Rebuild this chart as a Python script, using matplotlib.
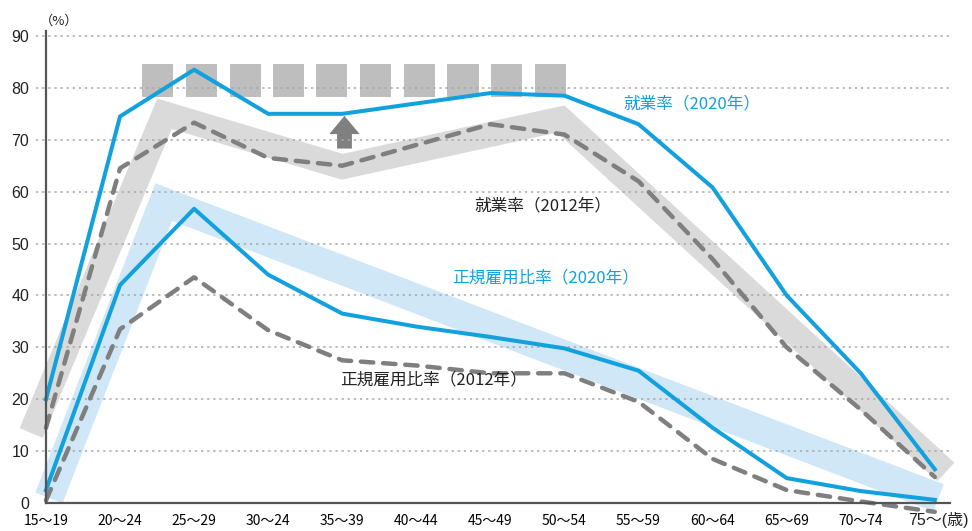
import matplotlib.pyplot as plt
from matplotlib.patches import FancyArrow

plt.rcParams['font.family'] = ['Noto Sans CJK JP', 'DejaVu Sans']
TICK_FONT = ['Liberation Sans', 'Noto Sans CJK JP']

# age groups (x axis), original labels kept as printed
age_labels = ["15～19", "20～24", "25～29", "30～24", "35～39", "40～44", "45～49",
              "50～54", "55～59", "60～64", "65～69", "70～74", "75～"]
y_ticks = [0, 10, 20, 30, 40, 50, 60, 70, 80, 90]

# employment rate (%)
emp_2020 = [20, 74.5, 83.5, 75, 75, 77, 79, 78.5, 73, 60.8, 40, 25, 6.5]
emp_2012 = [14.5, 64.5, 73.3, 66.5, 65, 69, 73, 71, 62, 47, 30, 18, 5]
# regular employment ratio (%)
reg_2020 = [2.5, 42, 56.7, 44, 36.5, 34, 32, 29.8, 25.5, 14.5, 4.8, 2.3, 0.6]
reg_2012 = [0.5, 33.5, 43.5, 33.3, 27.5, 26.5, 25, 25, 19.5, 8.5, 2.5, 0.3, -1.7]

# hand-drawn trend bands (category position, value)
emp_band_x = [-0.2, 1.6, 4.0, 6.95, 12.15]
emp_band_y = [13.5, 75, 64.8, 74, 6]
reg_band_x = [0.04, 1.59, 12.05]
reg_band_y = [1, 58, 1]

# the row of grey boxes above the employment curve
box_x = [1.51, 2.10, 2.69, 3.27, 3.86, 4.45, 5.04, 5.63, 6.22, 6.81]
box_bottom, box_top = 78.3, 84.6

BLUE = "#13A1DD"
GREY = "#7F7F7F"
TEXT = "#222222"

fig = plt.figure(figsize=(9.72, 5.31), dpi=100)
ax = fig.add_axes([0.0473, 0.0136, 0.9297, 0.9284])
x = list(range(len(age_labels)))

# bands
ax.plot(emp_band_x, emp_band_y, color="#DADADA", lw=18, solid_capstyle="butt",
        solid_joinstyle="miter", zorder=1, clip_on=False)
ax.plot(reg_band_x, reg_band_y, color="#CFE7F7", lw=21, solid_capstyle="butt",
        solid_joinstyle="miter", zorder=1, clip_on=False)

ax.bar(box_x, box_top - box_bottom, bottom=box_bottom, width=0.42,
       color="#BEBEBE", zorder=1.5)
ax.add_patch(FancyArrow(4.03, 68.3, 0, 6.3, width=0.2, head_width=0.41,
                        head_length=3.5, length_includes_head=True,
                        color="#808080", lw=0, zorder=1.6))

# dotted grid
ax.hlines(y_ticks[1:], -0.13, 12.2, colors="#A8A8A8", linestyles=(0, (1.5, 2.5)),
          lw=1.1, zorder=2, clip_on=False)

# lines
ax.plot(x, emp_2012, color=GREY, lw=3.2, ls=(0, (2.8, 2.2)),
        dash_capstyle="round", zorder=3, clip_on=False)
ax.plot(x, reg_2012, color=GREY, lw=3.2, ls=(0, (2.8, 2.2)),
        dash_capstyle="round", zorder=3, clip_on=False)
ax.plot(x, emp_2020, color=BLUE, lw=2.9, zorder=4, clip_on=False)
ax.plot(x, reg_2020, color=BLUE, lw=2.9, zorder=4, clip_on=False)

# labels on the chart
ax.text(7.79, 77, "就業率（2020年）", color=BLUE, fontsize=12, va="center")
ax.text(5.79, 57.3, "就業率（2012年）", color=TEXT, fontsize=12, va="center")
ax.text(5.48, 43.3, "正規雇用比率（2020年）", color=BLUE, fontsize=12, va="center")
ax.text(3.97, 23.7, "正規雇用比率（2012年）", color=TEXT, fontsize=12, va="center")

ax.set_xlim(0, 12.2)
ax.set_ylim(-4, 91)
ax.set_xticks(x)
# last label is drawn together with the unit further below
ax.set_xticklabels(age_labels[:-1] + [""], fontsize=11.5, color=TEXT, family=TICK_FONT)
ax.set_yticks(y_ticks)
ax.set_yticklabels([str(v) for v in y_ticks], fontsize=11.5, color=TEXT, family=TICK_FONT)
ax.tick_params(length=0)
ax.tick_params(axis="y", pad=12)
ax.tick_params(axis="x", pad=8)

for side in ["top", "right"]:
    ax.spines[side].set_visible(False)
ax.spines["bottom"].set_position(("data", 0))
ax.spines["left"].set_bounds(0, 91)
for side in ["bottom", "left"]:
    ax.spines[side].set_color("#555555")
    ax.spines[side].set_linewidth(1.6)
    ax.spines[side].set_zorder(5)

fig.text(40 / 972, 1 - 21 / 531, "（%）", fontsize=9.5, color=TEXT, va="center")
fig.text(908 / 972, 1 - 520 / 531, age_labels[-1] + "(歳)", fontsize=11.5,
         color=TEXT, va="center", family=TICK_FONT)

fig.savefig("out.png", dpi=100)
